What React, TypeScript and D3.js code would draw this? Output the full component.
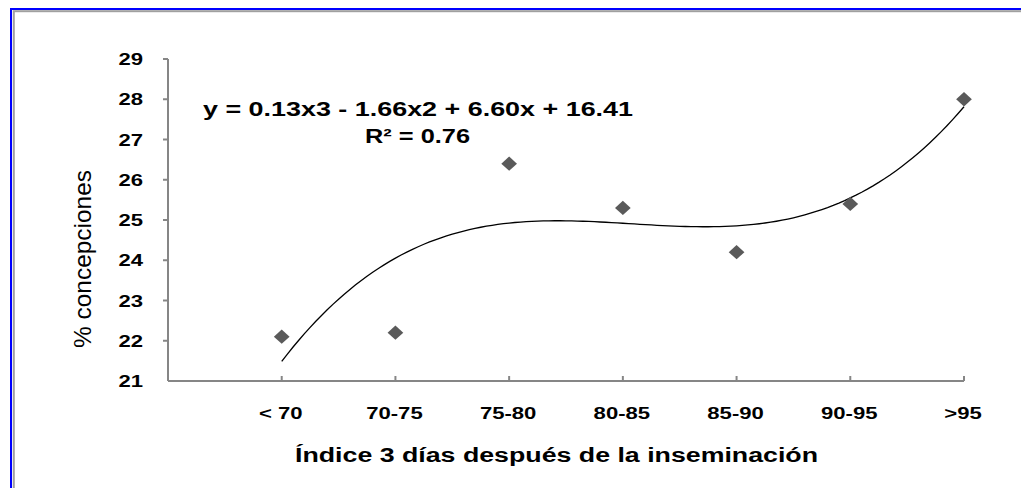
import React from "react";
import * as d3 from "d3";

const categories = ["< 70", "70-75", "75-80", "80-85", "85-90", "90-95", ">95"];
const values = [22.1, 22.2, 26.4, 25.3, 24.2, 25.4, 28.0];
const yTicks = [21, 22, 23, 24, 25, 26, 27, 28, 29];
const equationText = "y = 0.13x3 - 1.66x2 + 6.60x + 16.41";
const r2Text = "R² = 0.76";
const xTitle = "Índice 3 días después de la inseminación";
const yTitle = "% concepciones";

// least squares cubic fit of the data (trend line)
function cubicFit(xs: number[], ys: number[]): number[] {
  const n = 4;
  const A: number[][] = [];
  for (let i = 0; i < n; i++) {
    const row: number[] = [];
    for (let j = 0; j < n; j++) row.push(d3.sum(xs, (x) => Math.pow(x, i + j)));
    row.push(d3.sum(xs, (x, k) => Math.pow(x, i) * ys[k]));
    A.push(row);
  }
  for (let c = 0; c < n; c++) {
    let p = c;
    for (let r = c + 1; r < n; r++) if (Math.abs(A[r][c]) > Math.abs(A[p][c])) p = r;
    [A[c], A[p]] = [A[p], A[c]];
    for (let r = 0; r < n; r++) {
      if (r === c) continue;
      const f = A[r][c] / A[c][c];
      for (let k = c; k <= n; k++) A[r][k] -= f * A[c][k];
    }
  }
  return A.map((row, i) => row[n] / row[i]);
}

const W = 1021;
const H = 488;
const FONT = "'Liberation Sans', Arial, sans-serif";
const SX = 1.3;

export default function App() {
  const x = d3.scaleLinear().domain([0, 7]).range([168, 964]);
  const y = d3.scaleLinear().domain([21, 29]).range([381, 59]);
  const xs = categories.map((_, i) => i + 1);
  const coef = cubicFit(xs, values);
  const f = (t: number) => coef[0] + coef[1] * t + coef[2] * t * t + coef[3] * t * t * t;
  const samples = d3.range(1, 7.0001, 0.05).map((t) => [t, f(t)] as [number, number]);
  const line = d3
    .line<[number, number]>()
    .x((d) => x(d[0]))
    .y((d) => y(d[1]))
    .curve(d3.curveLinear);
  const diamond = d3.symbol().type(d3.symbolDiamond2).size(130)();
  const axisColor = "#868686";

  return (
    <svg
      width={W}
      height={H}
      style={{ position: "absolute", left: 0, top: 0, background: "#fff" }}
    >
      <rect x={0} y={0} width={W} height={H} fill="#fff" />
      {/* frame */}
      <rect x={11} y={9} width={1200} height={700} fill="none" stroke="#0000ff" strokeWidth={2} />
      <rect x={13.8} y={11.2} width={1200} height={700} fill="none" stroke="#a0a0a0" strokeWidth={2} />

      {/* y axis */}
      <line x1={x(0)} x2={x(0)} y1={y(29)} y2={y(21)} stroke={axisColor} strokeWidth={2} />
      {yTicks.map((t) => (
        <g key={t}>
          {t > 21 && (
            <line x1={x(0) - 5} x2={x(0)} y1={y(t)} y2={y(t)} stroke={axisColor} strokeWidth={2} />
          )}
          <text
            transform={`translate(143,${y(t)}) scale(${SX},1)`}
            textAnchor="end"
            dominantBaseline="central"
            fontFamily={FONT}
            fontWeight="bold"
            fontSize={17}
            fill="#000"
          >
            {t}
          </text>
        </g>
      ))}

      {/* x axis */}
      <line x1={x(0)} x2={x(7)} y1={y(21)} y2={y(21)} stroke={axisColor} strokeWidth={2} />
      {categories.map((c, i) => (
        <g key={c}>
          <line x1={x(i + 1)} x2={x(i + 1)} y1={y(21)} y2={y(21) - 5} stroke={axisColor} strokeWidth={2} />
          <text
            transform={`translate(${x(i + 1) - 1},413) scale(${SX},1)`}
            textAnchor="middle"
            dominantBaseline="central"
            fontFamily={FONT}
            fontWeight="bold"
            fontSize={17}
            fill="#000"
          >
            {c}
          </text>
        </g>
      ))}

      {/* trend line */}
      <path d={line(samples) || ""} fill="none" stroke="#000" strokeWidth={1.3} />

      {/* points */}
      {values.map((v, i) => (
        <path
          key={i}
          d={diamond || ""}
          transform={`translate(${x(i + 1)},${y(v)}) scale(1.1,1)`}
          fill="#5a5a5a"
        />
      ))}

      {/* equation */}
      <text
        x={203}
        y={116}
        textLength={430}
        lengthAdjust="spacingAndGlyphs"
        fontFamily={FONT}
        fontWeight="bold"
        fontSize={21}
        fill="#000"
      >
        {equationText}
      </text>
      <text
        x={365}
        y={143}
        textLength={105}
        lengthAdjust="spacingAndGlyphs"
        fontFamily={FONT}
        fontWeight="bold"
        fontSize={21}
        fill="#000"
      >
        {r2Text}
      </text>

      {/* axis titles */}
      <text
        x={295}
        y={462}
        textLength={523}
        lengthAdjust="spacingAndGlyphs"
        fontFamily={FONT}
        fontWeight="bold"
        fontSize={20}
        fill="#000"
      >
        {xTitle}
      </text>
      <text
        transform="translate(91,259) rotate(-90)"
        textAnchor="middle"
        textLength={178}
        lengthAdjust="spacingAndGlyphs"
        fontFamily={FONT}
        fontSize={24}
        fill="#000"
      >
        {yTitle}
      </text>
    </svg>
  );
}
